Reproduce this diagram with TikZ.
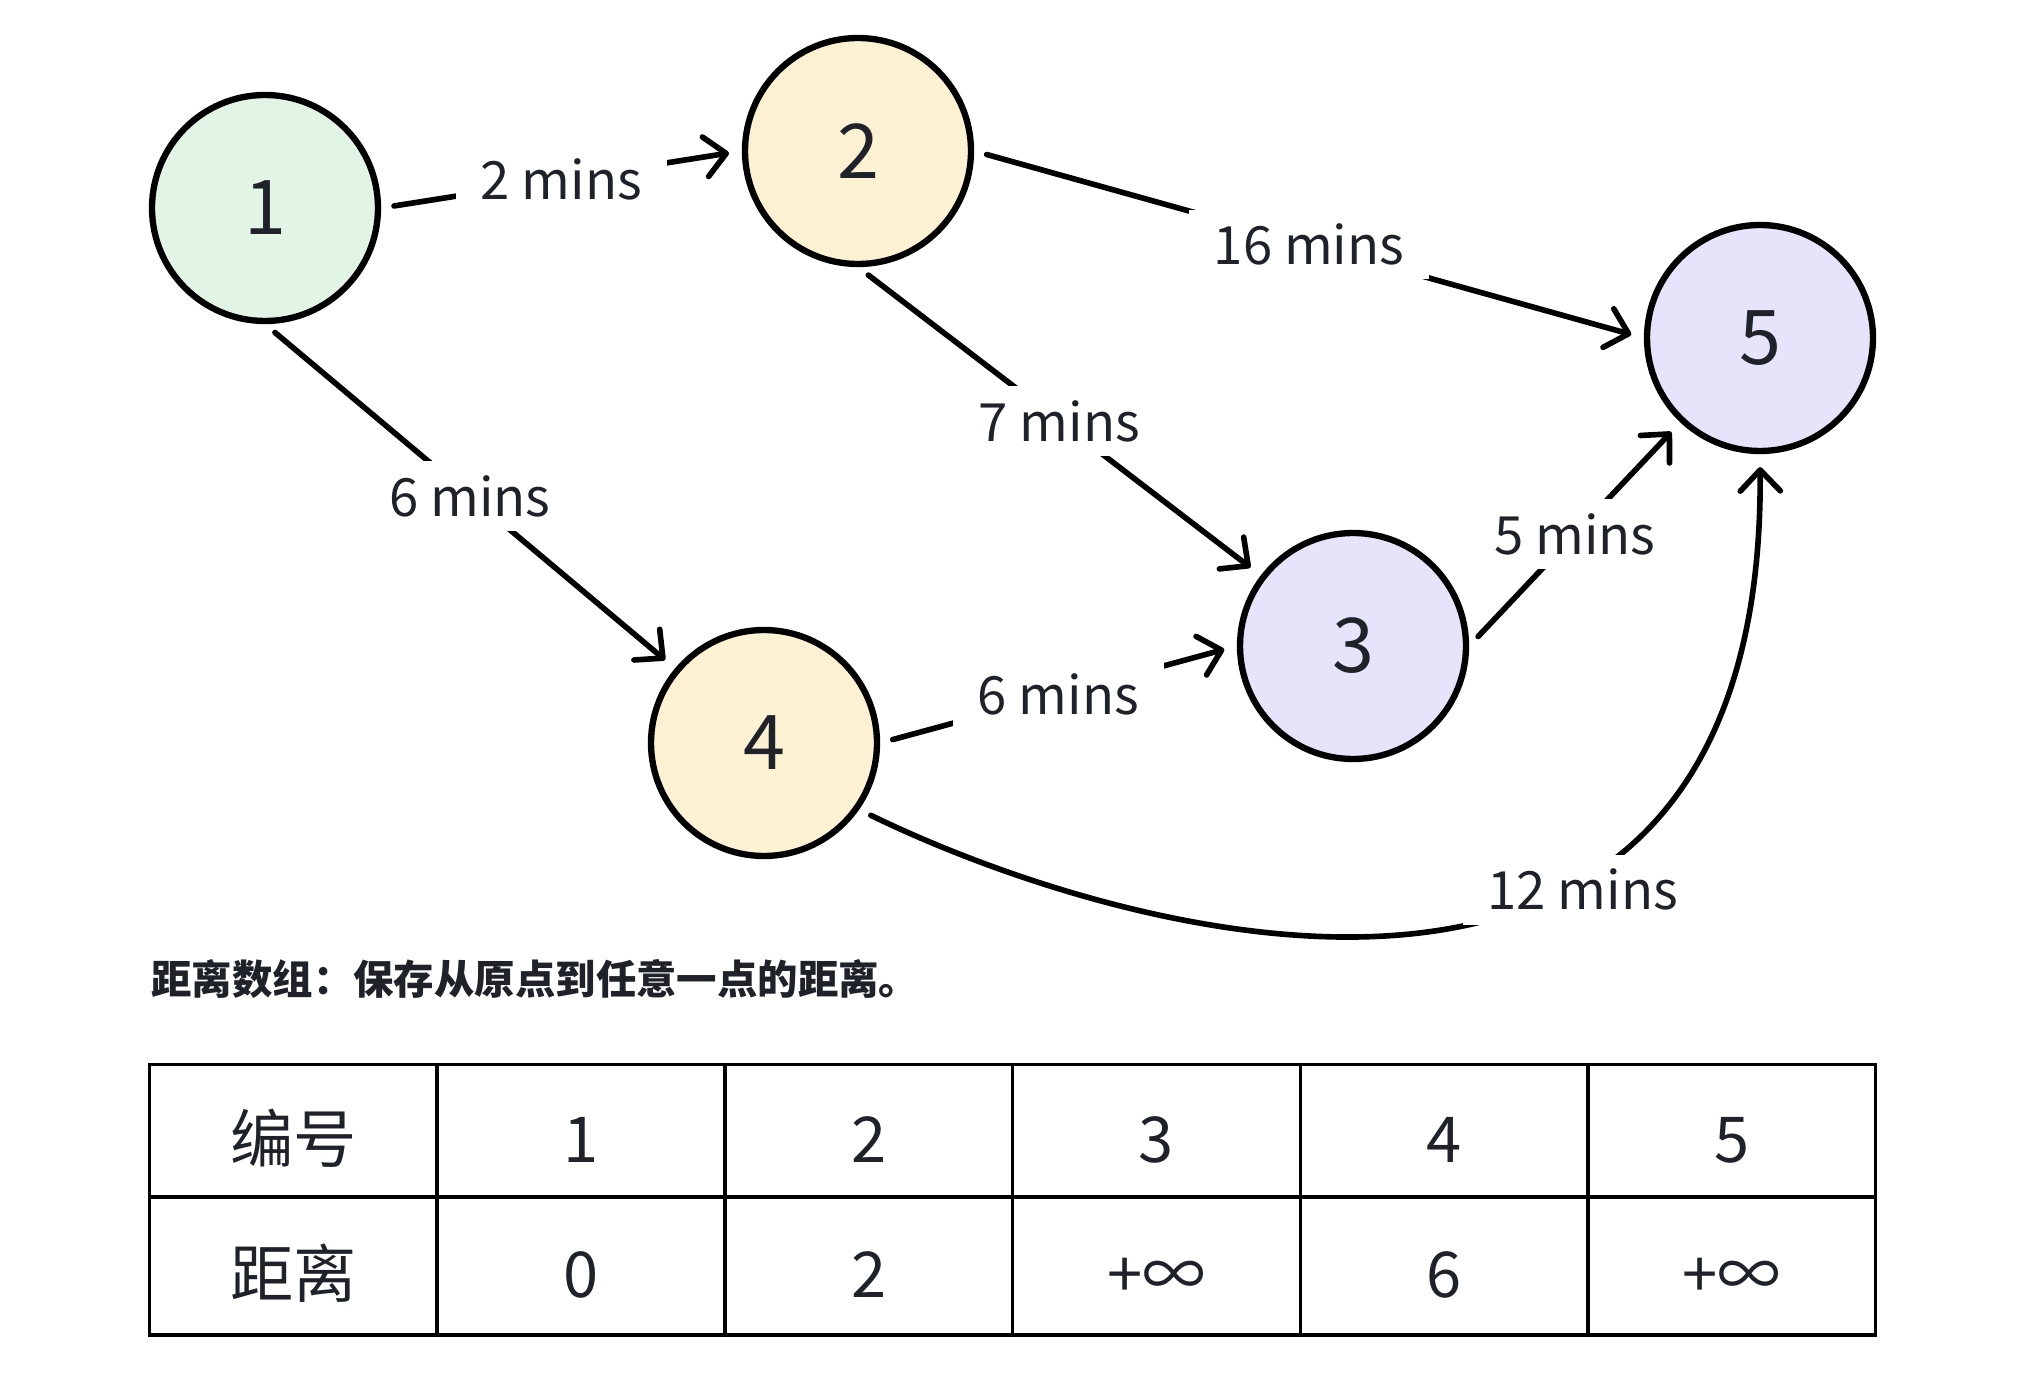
\documentclass[tikz,border=0pt]{standalone}
\usepackage{fontspec}
\setmainfont{Noto Sans CJK SC}
\usetikzlibrary{arrows.meta}

\definecolor{txtgray}{HTML}{1F2329}
\definecolor{startgreen}{HTML}{E2F4E6}
\definecolor{midyellow}{HTML}{FCF1D3}
\definecolor{endpurple}{HTML}{E7E3FA}

\tikzset{
	vertex/.style={circle, draw, line width=1.8pt, minimum size=2.26cm, inner sep=0pt, font=\fontsize{21.5}{25}\selectfont, text=txtgray},
	edge/.style={line width=1.6pt, line cap=round, -{Straight Barb[length=2.1mm, width=4mm, round]}, shorten >=0.13cm, shorten <=0.13cm},
	lbl/.style={fill=white, inner xsep=7pt, inner ysep=4pt, font=\fontsize{15}{18}\selectfont, text=txtgray},
	cell/.style={draw, line width=1pt, minimum width=2.877cm, inner sep=0pt, text height=0.625cm, text depth=0cm, font=\fontsize{18}{22}\selectfont, text=txtgray}
}

\begin{document}
\begin{tikzpicture}
	\useasboundingbox (0, 0) rectangle (20.38, -13.98);

	\node[vertex, fill=startgreen] (n1) at (2.65, -2.08) {1};
	\node[vertex, fill=midyellow] (n2) at (8.58, -1.51) {2};
	\node[vertex, fill=endpurple] (n3) at (13.53, -6.46) {3};
	\node[vertex, fill=midyellow] (n4) at (7.64, -7.43) {4};
	\node[vertex, fill=endpurple] (n5) at (17.60, -3.38) {5};

	\draw[edge] (n1.east) -- node[lbl] (w12) {2 mins} (n2.west);
	\draw[edge] (n2.east) -- node[lbl] (w25) {16 mins} (n5.west);
	\draw[edge] (n2.south) -- node[lbl] (w23) {7 mins} (n3);
	\draw[edge] (n1.south) -- node[lbl] (w14) {6 mins} (n4);
	\draw[edge] (n4.east) -- node[lbl] (w43) {6 mins} (n3.west);
	\draw[edge] (n3.east) -- node[lbl] (w35) {5 mins} (n5);
	\draw[edge] (n4.-35) .. controls (11.31, -9.42) and (17.65, -11.18) .. node[lbl, pos=0.66, yshift=-0.15cm] (w45) {12 mins} (n5.south);

	\node[anchor=west, font=\fontsize{11.5}{14}\selectfont\bfseries, text=txtgray] (caption) at (1.39, -9.79) {距离数组：保存从原点到任意一点的距离。};

	% distance table
	\foreach \head/\dist [count=\i from 0] in {编号/距离, 1/0, 2/2, 3/+∞, 4/6, 5/+∞} {
		\node[cell, minimum height=1.325cm] (id\i) at ({2.9335 + 2.877*\i}, -11.3075) {\head};
		\node[cell, minimum height=1.38cm] (dist\i) at ({2.9335 + 2.877*\i}, -12.66) {\dist};
	}
\end{tikzpicture}
\end{document}
